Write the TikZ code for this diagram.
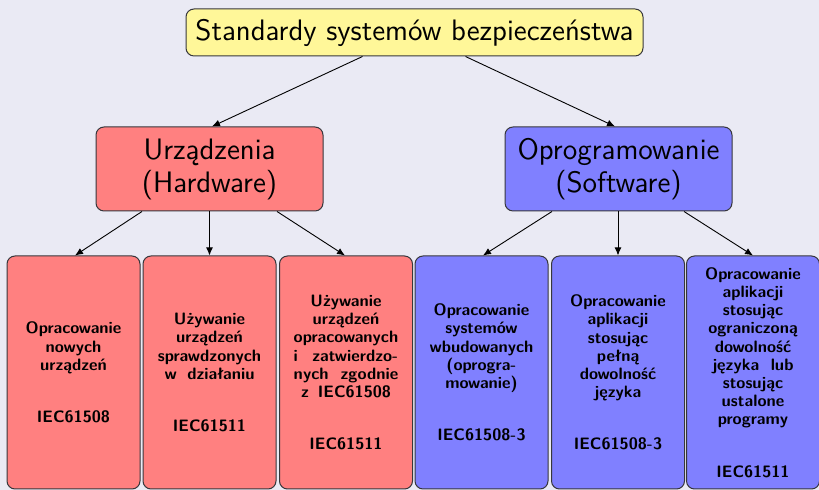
\documentclass[tikz,border=0pt]{standalone}
\usepackage{fontspec}
\usepackage{calc}
\usetikzlibrary{arrows.meta,calc}

\definecolor{bgc}{RGB}{234,234,244}
\definecolor{hwc}{RGB}{255,128,128}
\definecolor{swc}{RGB}{128,128,255}
\definecolor{topc}{RGB}{255,247,153}
\definecolor{edgec}{RGB}{55,55,60}

% stretch the spaces of a line to a given width
\newcommand\spreadto[2]{\makebox[#1][s]{#2}}

\tikzset{
  box/.style={draw=edgec, line width=0.5pt, rounded corners=4pt, inner sep=0pt, align=center},
  headbox/.style={box, fill=topc, minimum width=228.5pt, minimum height=23.5pt,
    font=\sffamily\fontsize{14.8}{16.5}\selectfont},
  groupbox/.style={box, minimum width=113.5pt, minimum height=42pt,
    font=\sffamily\fontsize{14.8}{16.5}\selectfont},
  leafbox/.style={box, minimum width=66.5pt, minimum height=116.5pt,
    font=\sffamily\bfseries\fontsize{8.25}{9.1}\selectfont},
  link/.style={-{Latex[length=4pt,width=3.4pt]}, line width=0.45pt, black},
}

\begin{document}
\begin{tikzpicture}[x=0.5pt, y=-0.5pt]
  \useasboundingbox (0,0) rectangle (819,490);
  \fill[bgc] (0,0) rectangle (819,490);

  % root and the two groups
  \node[headbox] (top) at (414.5,32.5) {Standardy systemów bezpieczeństwa};
  \node[groupbox, fill=hwc] (hw) at (209.5,169) {Urządzenia\\(Hardware)};
  \node[groupbox, fill=swc] (sw) at (618.5,169) {Oprogramowanie\\(Software)};

  % hardware leaves
  \node[leafbox, fill=hwc] (h1) at (73.5,372.5)
    {Opracowanie\\nowych\\urządzeń\\[17pt]IEC61508};
  \node[leafbox, fill=hwc] (h2) at (209.5,372.5)
    {Używanie\\urządzeń\\sprawdzonych\\\spreadto{45pt}{w działaniu}\\[17pt]IEC61511};
  \node[leafbox, fill=hwc] (h3) at (346,372.5)
    {Używanie\\urządzeń\\opracowanych\\\spreadto{\widthof{opracowanych}}{i zatwierdzo-}\\%
     \spreadto{\widthof{opracowanych}}{nych zgodnie}\\\spreadto{45pt}{z IEC61508}\\[17pt]IEC61511};

  % software leaves
  \node[leafbox, fill=swc] (s1) at (481.5,372.5)
    {Opracowanie\\systemów\\wbudowanych\\(oprogra-\\mowanie)\\[17pt]IEC61508-3};
  \node[leafbox, fill=swc] (s2) at (618,372.5)
    {Opracowanie\\aplikacji\\stosując\\pełną\\dowolność\\języka\\[17pt]IEC61508-3};
  \node[leafbox, fill=swc] (s3) at (753,372.5)
    {Opracowanie\\aplikacji\\stosując\\ograniczoną\\dowolność\\\spreadto{40.5pt}{języka lub}\\stosując\\ustalone\\programy\\[17pt]IEC61511};

  % connectors
  \draw[link] ($(top.south)+(-52,0)$) -- ($(hw.north)+(2.5,0)$);
  \draw[link] ($(top.south)+(51,0)$)  -- ($(sw.north)+(-3.5,0)$);

  \draw[link] ($(hw.south)+(-67.5,0)$) -- ($(h1.north)+(1.5,0)$);
  \draw[link] (hw.south) -- (h2.north);
  \draw[link] ($(hw.south)+(67.5,0)$)  -- ($(h3.north)+(-1,0)$);

  \draw[link] ($(sw.south)+(-66.5,0)$) -- ($(s1.north)+(1.5,0)$);
  \draw[link] ($(sw.south)+(-0.5,0)$)  -- (s2.north);
  \draw[link] ($(sw.south)+(65.5,0)$)  -- (s3.north);
\end{tikzpicture}
\end{document}
